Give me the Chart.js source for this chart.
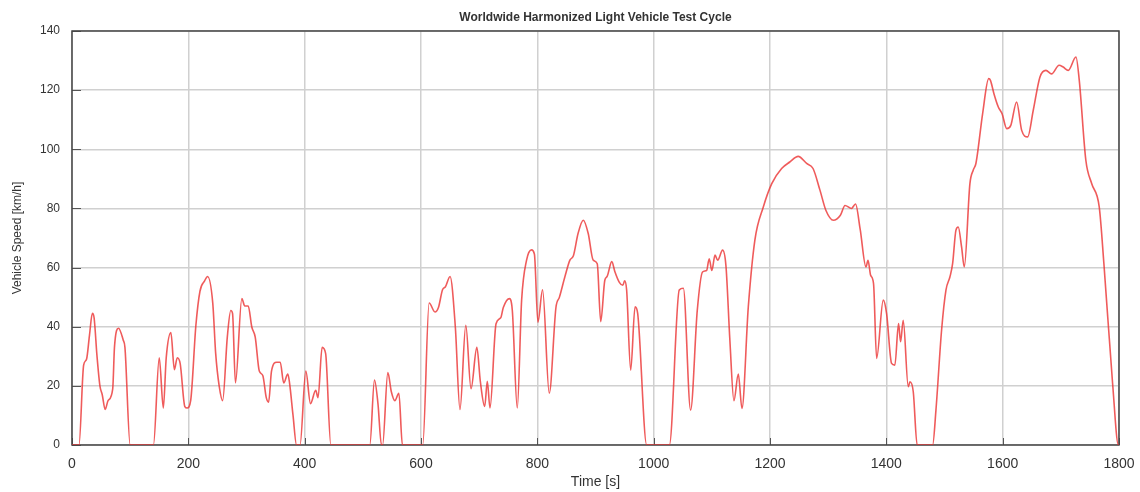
<!DOCTYPE html>
<html>
<head>
<meta charset="utf-8">
<title>WLTC</title>
<script src="https://cdn.jsdelivr.net/npm/chart.js@4.4.1/dist/chart.umd.min.js"></script>
<style>
  html, body { margin: 0; padding: 0; background: #fff; }
  #wrap { width: 1140px; height: 492px; }
</style>
</head>
<body>
<div id="wrap"><canvas id="wltcChart" width="1140" height="492"></canvas></div>
<script>
// WLTC class 3 speed trace, time [s] and speed [km/h]
const times = [
  0, 12, 20, 25, 30, 35, 38, 43, 48, 52, 57, 62, 70, 73, 80, 88, 91, 100,
  140, 150, 157, 162, 170, 176, 181, 186, 194, 198, 204, 213, 220, 228, 233,
  242, 247, 253, 259, 267, 273, 276, 281, 292, 297, 303, 309, 315, 322, 328,
  334, 338, 343, 352, 358, 364, 371, 374, 380, 386, 392, 402, 410, 419, 423,
  430, 436, 445, 512, 520, 526, 532, 534, 543, 549, 555, 562, 568, 603, 614,
  624, 630, 637, 642, 650, 659, 667, 677, 686, 696, 702, 709.5, 714, 718.6,
  729, 737, 741.5, 752, 757, 765.5, 773, 781.5, 790, 795, 801, 809, 820.5,
  832, 838, 847.5, 856, 862, 870, 879, 887.5, 896, 903, 909, 916, 920, 928,
  933.5, 941, 947, 950, 953.5, 960.5, 968, 972.5, 988, 1027, 1044, 1051,
  1063.5, 1075, 1084, 1091, 1095.5, 1100, 1105.5, 1110, 1118.5, 1124.3, 1131,
  1138, 1145.5, 1151.8, 1162.7, 1174, 1188.5, 1203, 1220, 1234, 1248.5, 1263,
  1274, 1286, 1296, 1309, 1321, 1329, 1340, 1347, 1355, 1365, 1368.5, 1373,
  1378, 1383.3, 1394.7, 1400.4, 1409, 1414.7, 1421, 1424.5, 1429, 1437.7,
  1440.6, 1446.3, 1453, 1479.6, 1485.3, 1495, 1502.5, 1509.4, 1514, 1519.6,
  1523.6, 1529.4, 1534, 1543.7, 1549.5, 1554, 1565.5, 1576, 1579, 1585,
  1592.5, 1599, 1607, 1614, 1624, 1632.7, 1643, 1652.6, 1664, 1674.4, 1684,
  1697, 1704, 1712.8, 1726, 1731.7, 1743, 1753, 1766, 1774, 1789, 1799, 1800
];
const speeds = [
  0, 0, 27, 29, 37, 44.5, 43, 30, 20, 17, 12, 15, 19, 33, 39.5, 35.5, 33, 0,
  0, 29.5, 12.5, 29.5, 38, 25.5, 29.5, 27.5, 13, 12.5, 15, 40.5, 52, 55.5, 57,
  48, 31, 20, 15, 36.5, 45.5, 44.5, 21, 49.5, 47, 47, 40, 36.5, 25, 23.5,
  16, 14.5, 25, 28, 28, 21, 24, 21, 10, 0, 0, 25, 14, 18.5, 16,
  33, 31, 0, 0, 22, 14, 0, 0, 24.5, 18, 15, 17.5, 0, 0, 48,
  45, 46.5, 52.5, 53.5, 57, 40, 12, 40.5, 19, 33, 21.5, 13, 21.5, 12.5,
  41, 43, 46.5, 49.5, 45.5, 12.5, 49, 62.5, 66, 64.5, 41.5, 52.5, 17.5,
  46.5, 50, 57, 62.5, 64, 71.5, 76, 71.5, 62.5, 61.3, 41.7, 55.7, 57, 62,
  58.5, 55, 54, 55.5, 52.5, 25.3, 46.7, 44.5, 0, 0, 52.4, 53,
  11.8, 45.6, 58.5, 59, 63, 59, 64.2, 62.5, 65.9, 60.5, 35.5,
  15, 24, 12.4, 46.7, 69.3, 80.5, 88.4, 93.5, 95.7, 97.6, 95.2,
  93.5, 86.1, 79.4, 76, 77.7, 81, 80, 81.5, 73, 60.2, 62.5, 57.4,
  54.6, 29.3, 49, 44.5, 27.6, 27, 41.1, 34.9, 42.2, 19.7,
  21.4, 18, 0, 0, 11.8, 38.9, 52.4, 56.9, 61.4, 72.6,
  73.7, 66.9, 60.2, 88.4, 93, 95.2, 112, 123.9, 123.3, 118.8,
  114.3, 112, 107, 108.1, 116, 106.4, 104.2, 113.2, 124.4, 126.7, 125.5,
  128.4, 127.8, 126.7, 131.2, 123.3, 96.3, 88.4, 80.5, 61.4, 20.8, 0, 0
];
const timeTicks = [0, 200, 400, 600, 800, 1000, 1200, 1400, 1600, 1800];
const speedTicks = [0, 20, 40, 60, 80, 100, 120, 140];

const points = times.map((t, i) => ({ x: t, y: speeds[i] }));

// box around the plot plus short inward tick marks, drawn under the trace
const frame = {
  id: 'frame',
  beforeDatasetsDraw(chart) {
    const { ctx, chartArea: a, scales } = chart;
    ctx.save();
    ctx.strokeStyle = '#555';
    ctx.lineWidth = 1;
    ctx.beginPath();
    timeTicks.forEach(v => {
      const px = Math.round(scales.x.getPixelForValue(v)) + 0.5;
      ctx.moveTo(px, a.bottom);
      ctx.lineTo(px, a.bottom - 7);
    });
    speedTicks.forEach(v => {
      const py = Math.round(scales.y.getPixelForValue(v)) + 0.5;
      ctx.moveTo(a.left, py);
      ctx.lineTo(a.left + 9, py);
    });
    ctx.stroke();
    ctx.strokeStyle = '#444';
    ctx.lineWidth = 1.5;
    ctx.strokeRect(a.left, a.top, a.right - a.left, a.bottom - a.top);
    ctx.restore();
  }
};

const CHART = document.getElementById('wltcChart');
let wltcChart = new Chart(CHART, {
  type: 'line',
  data: {
    datasets: [{
      label: 'Vehicle Speed',
      data: points,
      borderColor: 'rgba(235,50,50,0.8)',
      borderWidth: 1.6,
      pointRadius: 0,
      fill: false,
      cubicInterpolationMode: 'monotone'
    }]
  },
  options: {
    responsive: false,
    animation: false,
    devicePixelRatio: 1,
    layout: { padding: { top: 0, right: 21, bottom: 0, left: 0 } },
    plugins: {
      legend: { display: false },
      tooltip: { enabled: false },
      title: {
        display: true,
        fullSize: false,
        text: 'Worldwide Harmonized Light Vehicle Test Cycle',
        color: '#333',
        font: { family: 'Liberation Sans', size: 12, weight: 'bold', lineHeight: 1.2 },
        padding: { top: 10, bottom: 6.6 }
      }
    },
    scales: {
      x: {
        type: 'linear',
        min: 0,
        max: 1800,
        afterFit: s => { s.height = 47; s.paddingLeft = 0; s.paddingRight = 0; },
        afterBuildTicks: s => { s.ticks = timeTicks.map(v => ({ value: v })); },
        ticks: {
          color: '#333',
          font: { family: 'Liberation Sans', size: 14 },
          padding: 11,
          maxRotation: 0,
          autoSkip: false,
          callback: v => String(v)
        },
        grid: { color: '#d0d0d0', lineWidth: 1.5, drawTicks: false },
        border: { display: false },
        title: {
          display: true,
          text: 'Time [s]',
          color: '#333',
          font: { family: 'Liberation Sans', size: 14, lineHeight: 1.2 },
          padding: { top: 0, bottom: 1 }
        }
      },
      y: {
        min: 0,
        max: 140,
        afterFit: s => { s.width = 72; },
        afterBuildTicks: s => { s.ticks = speedTicks.map(v => ({ value: v })); },
        ticks: {
          color: '#333',
          font: { family: 'Liberation Sans', size: 12 },
          padding: 12,
          callback: v => String(v)
        },
        grid: { color: '#d0d0d0', lineWidth: 1.5, drawTicks: false },
        border: { display: false },
        title: {
          display: true,
          text: 'Vehicle Speed [km/h]',
          color: '#333',
          font: { family: 'Liberation Sans', size: 12, lineHeight: 1.2 },
          padding: { top: 10, bottom: 0 }
        }
      }
    }
  },
  plugins: [frame]
});
</script>
</body>
</html>
